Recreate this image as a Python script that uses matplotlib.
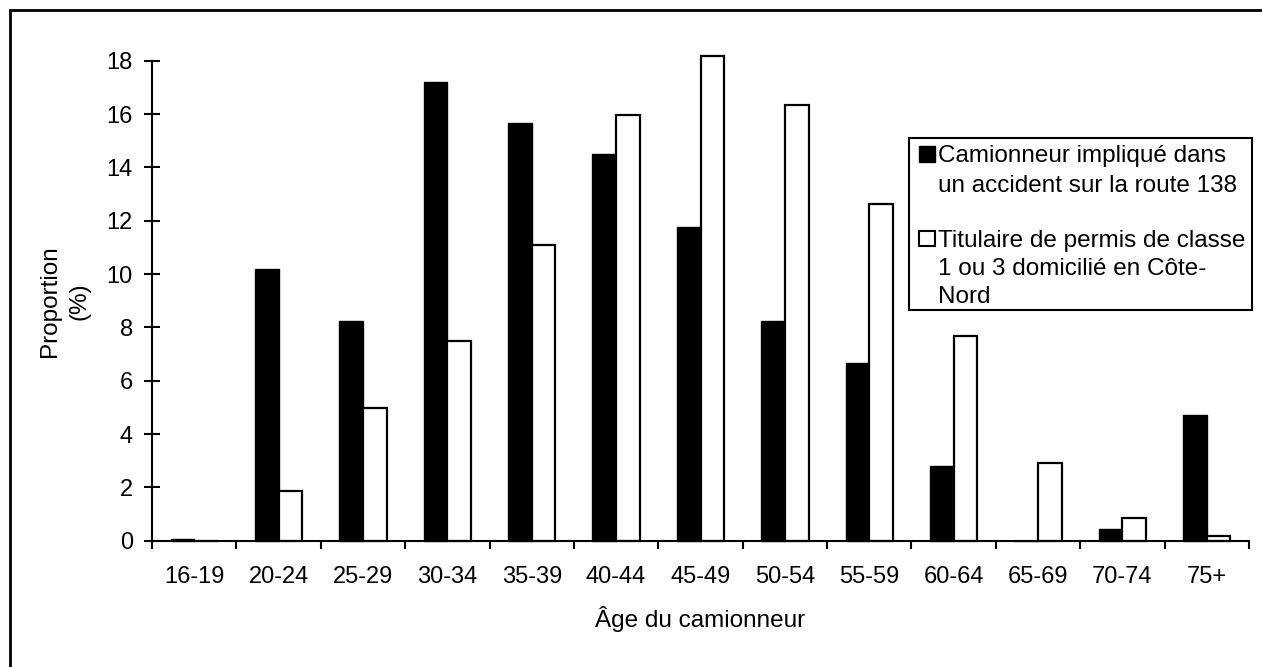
import matplotlib
matplotlib.use('Agg')
import matplotlib.pyplot as plt
import numpy as np
from matplotlib.patches import Rectangle

plt.rcParams['font.family'] = ['Liberation Sans', 'DejaVu Sans']

# données
categories = ['16-19', '20-24', '25-29', '30-34', '35-39', '40-44', '45-49',
              '50-54', '55-59', '60-64', '65-69', '70-74', '75+']
accident = [0.06, 10.2, 8.25, 17.22, 15.66, 14.49, 11.76, 8.25, 6.65, 2.79, 0.0, 0.44, 4.72]
permis = [0.0, 1.88, 4.97, 7.5, 11.09, 15.97, 18.19, 16.32, 12.64, 7.69, 2.9, 0.84, 0.19]
legend_lines = [['Camionneur impliqué dans', 'un accident sur la route 138'],
                ['Titulaire de permis de classe', '1 ou 3 domicilié en Côte-', 'Nord']]
yticks = list(range(0, 20, 2))

W, H = 1262, 667
fig = plt.figure(figsize=(W / 100, H / 100), dpi=100)
ax = fig.add_axes([152 / W, 1 - 540.7 / H, (1249 - 152) / W, (540.7 - 60.7) / H])

x = np.arange(len(categories)) + 0.5
w = 0.28
ax.bar(x - w / 2, accident, w, color='black', edgecolor='black', linewidth=1.0, clip_on=False)
ax.bar(x + w / 2, permis, w, color='white', edgecolor='black', linewidth=1.6, clip_on=False)

ax.set_xlim(0, len(categories))
ax.set_ylim(0, 18)
ax.set_yticks(yticks)
ax.set_xticks(np.arange(len(categories) + 1))
ax.set_xticklabels([])
ax.set_xticks(x, minor=True)
ax.set_xticklabels(categories, minor=True)

for s in ['top', 'right']:
    ax.spines[s].set_visible(False)
for s in ['left', 'bottom']:
    ax.spines[s].set_linewidth(1.5)

ax.tick_params(axis='y', direction='inout', length=11.5, width=1.5, pad=8, labelsize=17)
ax.tick_params(axis='x', which='major', direction='out', length=5.8, width=1.5)
ax.tick_params(axis='x', which='minor', length=0, pad=18, labelsize=17)

# titres des axes
fig.text(65 / W, 1 - 300.7 / H, 'Proportion\n(%)', rotation=90, ha='center', va='center',
         multialignment='center', linespacing=1.45, fontsize=17.5)
fig.text(700.5 / W, 1 - 627 / H, 'Âge du camionneur', ha='center', va='baseline', fontsize=17.5)

# légende dessinée à la main (carré aligné sur la première ligne)
fig.patches.append(Rectangle((908.5 / W, 1 - 310 / H), (1252 - 908.5) / W, (310 - 137.5) / H,
                             transform=fig.transFigure, fill=False, edgecolor='black', linewidth=1.5))
fig.patches.append(Rectangle((918.5 / W, 1 - 161.7 / H), 17 / W, 15.5 / H, transform=fig.transFigure,
                             facecolor='black', edgecolor='black', linewidth=1.0))
fig.patches.append(Rectangle((919 / W, 1 - 246 / H), 16.5 / W, 15.5 / H, transform=fig.transFigure,
                             facecolor='white', edgecolor='black', linewidth=1.5))
baselines = [[161.7, 191.7], [246.7, 275, 303.3]]
for lines, ys in zip(legend_lines, baselines):
    for txt, yb in zip(lines, ys):
        fig.text(938.5 / W, 1 - yb / H, txt, ha='left', va='baseline', fontsize=17.5)

# cadre extérieur (bords droit et bas hors de l'image)
fig.patches.append(Rectangle((9.7 / W, -0.5), 2, 1.5 - 9.7 / H, transform=fig.transFigure,
                             fill=False, edgecolor='black', linewidth=2))

fig.savefig('out.png', dpi=100)
